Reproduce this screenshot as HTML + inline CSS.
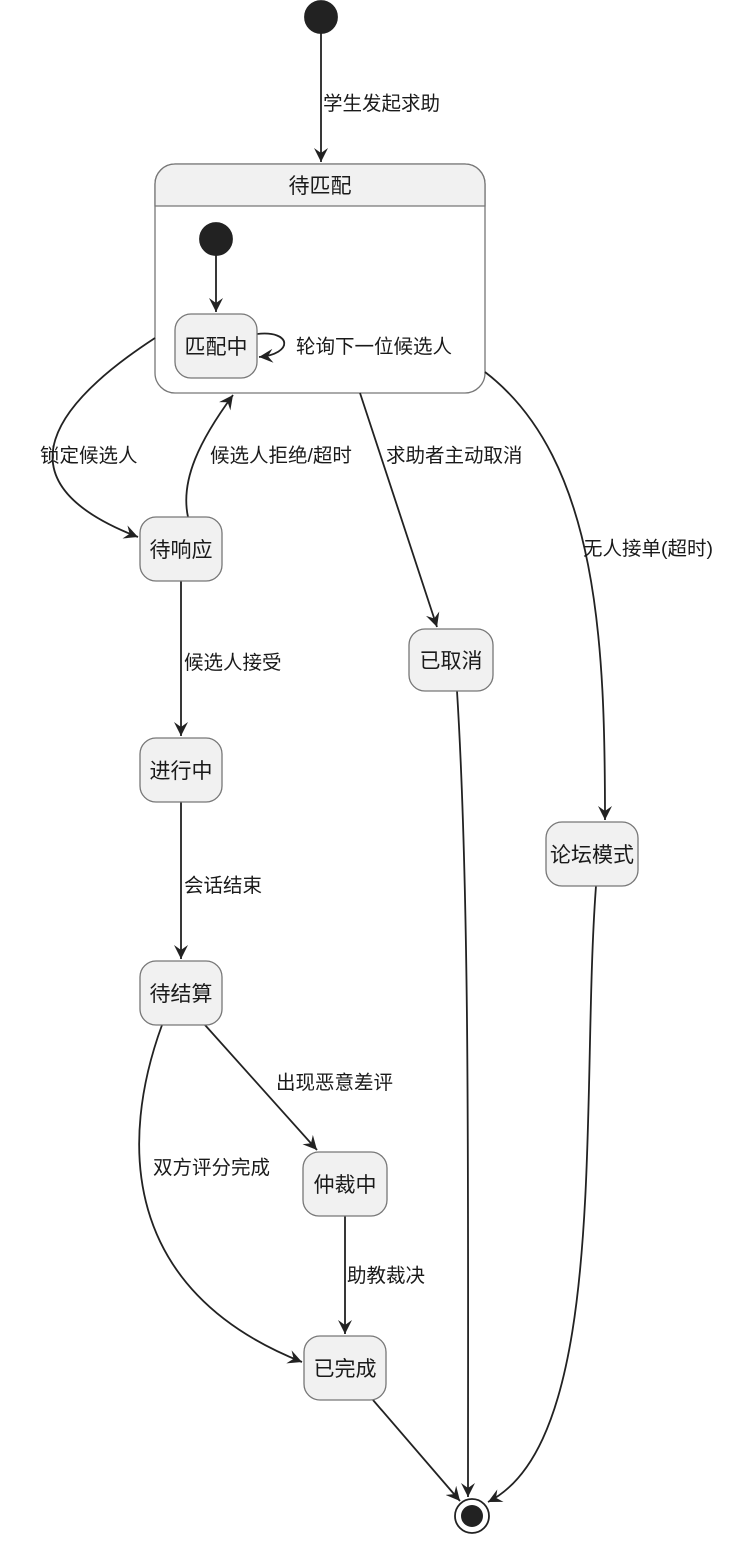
<!DOCTYPE html>
<html><head><meta charset="utf-8"><style>
body{margin:0;background:#fff}
svg text{font-family:"Liberation Sans","Noto Sans CJK SC",sans-serif;fill:#1a1a1a}
</style></head><body>
<svg width="748" height="1540" viewBox="0 0 748 1540" xmlns="http://www.w3.org/2000/svg">
<defs><marker id="a" markerWidth="16" markerHeight="14" refX="14" refY="7" orient="auto" markerUnits="userSpaceOnUse">
<path d="M0,0 L14,7 L0,14 L5,7 Z" fill="#222"/></marker></defs>
<g fill="none" stroke="#222" stroke-width="1.8">
<circle cx="321" cy="17" r="16" fill="#222"/>
<line x1="321" y1="33" x2="321" y2="162" marker-end="url(#a)"/>
<rect x="155" y="164" width="330" height="229" rx="20" fill="#fff" stroke="#777" stroke-width="1.3"/>
<path d="M155,206 V184 a20,20 0 0 1 20,-20 H465 a20,20 0 0 1 20,20 V206 Z" fill="#f1f1f1" stroke="#777" stroke-width="1.3"/>
<circle cx="216" cy="239" r="16" fill="#222"/>
<line x1="216" y1="255" x2="216" y2="312" marker-end="url(#a)"/>
<path d="M257,334 C292,330 294,354 259,357" marker-end="url(#a)"/>
<path d="M155,338 C60,400 -10,480 138,537" marker-end="url(#a)"/>
<path d="M188,517 C180,480 200,440 233,395" marker-end="url(#a)"/>
<path d="M360,393 L437,627" marker-end="url(#a)"/>
<path d="M485,372 C600,460 605,650 605,820" marker-end="url(#a)"/>
<line x1="181" y1="581" x2="181" y2="736" marker-end="url(#a)"/>
<line x1="181" y1="802" x2="181" y2="959" marker-end="url(#a)"/>
<path d="M205,1025 L317,1150" marker-end="url(#a)"/>
<path d="M162,1025 C120,1140 120,1290 302,1362" marker-end="url(#a)"/>
<path d="M345,1216 L345,1334" marker-end="url(#a)"/>
<path d="M373,1400 L460,1501" marker-end="url(#a)"/>
<path d="M457,691 C470,900 468,1200 468,1497" marker-end="url(#a)"/>
<path d="M596,886 C580,1100 610,1440 488,1502" marker-end="url(#a)"/>
<circle cx="472" cy="1516" r="17" fill="#fff"/>
<circle cx="472" cy="1516" r="11" fill="#222" stroke="none"/>
</g>
<g fill="#f1f1f1" stroke="#777" stroke-width="1.3">
<rect x="175" y="314" width="82" height="64" rx="16"/>
<rect x="140" y="517" width="82" height="64" rx="16"/>
<rect x="140" y="738" width="82" height="64" rx="16"/>
<rect x="140" y="961" width="82" height="64" rx="16"/>
<rect x="303" y="1152" width="84" height="64" rx="16"/>
<rect x="304" y="1336" width="82" height="64" rx="16"/>
<rect x="409" y="629" width="84" height="62" rx="16"/>
<rect x="546" y="822" width="92" height="64" rx="16"/>
</g>
<g font-size="21" text-anchor="middle">
<text x="320" y="193">待匹配</text>
<text x="216" y="354">匹配中</text>
<text x="181" y="557">待响应</text>
<text x="181" y="778">进行中</text>
<text x="181" y="1001">待结算</text>
<text x="345" y="1192">仲裁中</text>
<text x="345" y="1376">已完成</text>
<text x="451" y="668">已取消</text>
<text x="592" y="862">论坛模式</text>
</g>
<g font-size="19.5">
<text x="323" y="110">学生发起求助</text>
<text x="296" y="353">轮询下一位候选人</text>
<text x="40" y="462">锁定候选人</text>
<text x="210" y="462">候选人拒绝/超时</text>
<text x="386" y="462">求助者主动取消</text>
<text x="583" y="555">无人接单(超时)</text>
<text x="184" y="669">候选人接受</text>
<text x="184" y="892">会话结束</text>
<text x="276" y="1089">出现恶意差评</text>
<text x="153" y="1174">双方评分完成</text>
<text x="347" y="1282">助教裁决</text>
</g>
</svg>
</body></html>
